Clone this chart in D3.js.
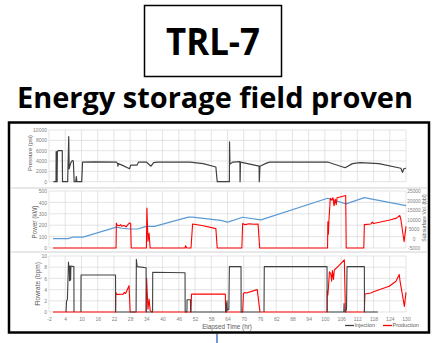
<!DOCTYPE html>
<html><head><meta charset="utf-8">
<script src="https://cdn.jsdelivr.net/npm/d3@7"></script>
<style>html,body{margin:0;padding:0;background:#fff;}svg{display:block;}</style>
</head><body>
<svg id="c" width="436" height="343"></svg>
<script>
// ---- data (hours, value) ----
const xTicks = [-2,4,10,16,22,28,34,40,46,52,58,64,70,76,82,88,94,100,106,112,118,124,130];
const pressureTicks = [0,2000,4000,6000,8000,10000];
const powerTicks = [0,100,200,300,400,500];
const volumeTicks = [-5000,0,5000,10000,15000,20000,25000];
const flowTicks = [0,2,4,6,8,10];

const pressure = [[-0.4,0],[0.6,0],[0.65,5800],[0.8,0],[0.9,5700],[1.0,0],[1.1,5900],[1.4,6000],[2.9,6000],[3.0,0],
 [4.9,0],[5.3,8700],[5.45,2500],[6.0,3600],[6.6,4100],[7.0,4000],[7.3,0],[7.9,0],[8.1,1000],[8.3,0],[10.1,0],[10.4,3800],
 [15,3850],[22.9,3800],[23.4,3500],[23.5,3000],[23.6,3500],[25,3200],[27.8,2500],[28.2,3200],[30.5,3200],[31.1,3800],
 [34,3800],[35.7,3000],[36.7,3700],[38,3800],[50.2,3800],[55,3500],[59.7,2850],[60.2,0],[64.7,0],[64.75,7700],[64.9,3400],
 [66,3800],[68.6,3900],[68.65,0],[68.8,3800],[75.7,3000],[75.75,0],[76.0,3000],[78.4,3600],[79.6,3800],[101,3800],
 [107.5,2700],[110.2,3500],[113,3700],[120,3500],[128.1,2600],[128.7,1800],[129.2,2500],[130,2600]];

const power = [[-0.5,0],[22.8,0],[22.9,218],[23.3,200],[24,195],[24.5,205],[25,190],[25.5,198],[26,195],[26.5,185],[27,200],
 [27.8,220],[28.2,215],[28.4,0],[34,0],[34.2,350],[34.6,60],[35,130],[35.4,0],[48.3,0],[48.5,20],[49,0],[50.5,0],[51.1,210],
 [55,195],[59.7,170],[60.2,0],[69.3,0],[69.6,215],[70.5,205],[72,212],[74,208],[75.3,210],[75.9,0],[101,0],[101.1,230],
 [101.3,120],[101.5,240],[102,435],[102.5,420],[103,440],[103.4,370],[103.8,430],[104.2,380],[104.5,440],[106,450],
 [107.7,460],[107.9,0],[114.4,0],[114.6,205],[117,210],[117.5,227],[118,215],[121,230],[124,245],[126.5,262],[127.7,285],
 [128.1,250],[129.3,55],[130,190]];

const volume = [[-0.5,-100],[5.1,-100],[6.9,760],[10.6,760],[22.9,6000],[25,5400],[27.8,5000],[30.8,5000],[33.9,6400],
 [37,6400],[49.5,11260],[51,11200],[61.5,9500],[64.1,8600],[69.6,11200],[76.4,9830],[101,21160],[107.8,18200],
 [114.6,21500],[130,17300]];

const production = [[-0.5,0],[22.6,0],[22.7,3.5],[23,3.15],[25.5,3.2],[25.8,3.5],[26.3,3.3],[27.6,4.7],[28.0,0],[33.9,0],
 [34.1,6.0],[34.6,0.5],[35.0,2.3],[35.4,0.3],[36,0],[50.5,0],[50.7,3.2],[63.2,3.2],[63.3,0],[69.6,0],[69.9,3.3],[70.5,3.5],
 [71,3.4],[75,4.0],[76,0],[100.8,0],[100.9,3.8],[101.1,3.0],[101.3,4.2],[101.7,7.2],[102.2,6.8],[102.5,5.5],[102.8,7.4],
 [103.2,5.8],[103.5,7.5],[105,8.2],[107.2,9.3],[107.6,0],[114.6,0],[114.8,3.2],[117,3.4],[118,3.6],[119.5,3.9],[123.8,4.6],
 [126.3,5.5],[127.5,6.7],[127.8,5.5],[129.4,1.0],[130,3.5]];

const injection = [[4.3,0],[4.5,2.0],[4.8,2.2],[5.2,8.9],[5.35,7.6],[5.5,8.2],[5.6,5.6],[5.7,8.2],[5.8,5.9],[5.9,8.1],
 [6.0,5.7],[6.1,8.2],[7.2,8.1],[7.25,0],[7.3,null],[9.8,0],[9.85,6.6],[22.6,6.6],[22.65,0],[30.2,0],[30.3,9.4],[30.6,8.1],
 [33.9,7.9],[33.95,0],[36.3,0],[36.35,7.1],[48.3,7.0],[48.35,0],[49.0,0],[49.05,2.2],[50.3,2.2],[50.35,0],[63.4,0],
 [63.5,1.5],[63.6,0],[63.8,2.0],[63.9,0.3],[64.5,0.5],[64.7,8.1],[69.0,8.1],[69.05,0],[76,0],[76.05,null],[77.5,0],
 [77.6,8.1],[100.8,8.1],[100.85,0],[107.0,0],[107.1,1.5],[107.2,0],[107.6,0],[108.0,0.5],[108.2,8.1],[114.6,8.1],
 [114.65,0],[119.6,0]];

const legendItems = ["Injection","Production"];

// ---- drawing ----
const svg = d3.select("#c");
const font = "'Liberation Sans', Arial, sans-serif";
const gridC = "#d9d9d9", tickC = "#7f7f7f", titleC = "#595959";
const cInj = "#404040", cProd = "#ff0000", cVol = "#5b9bd5", cPres = "#404040";

// title
svg.append("rect").attr("x",144.5).attr("y",5.5).attr("width",137).attr("height",71)
  .attr("fill","none").attr("stroke","#000").attr("stroke-width",1.5);
svg.append("text").attr("x",213).attr("y",55).attr("text-anchor","middle")
  .attr("font-family","'Open Sans', sans-serif").attr("font-weight",700).attr("font-size",37)
  .attr("textLength",94).attr("lengthAdjust","spacingAndGlyphs").text("TRL-7");
svg.append("text").attr("x",17).attr("y",108)
  .attr("font-family","'Open Sans', sans-serif").attr("font-weight",700).attr("font-size",28)
  .attr("textLength",396).attr("lengthAdjust","spacingAndGlyphs").text("Energy storage field proven");

// frame
svg.append("rect").attr("x",9).attr("y",122.5).attr("width",420).attr("height",210)
  .attr("fill","#fff").attr("stroke","#000").attr("stroke-width",2.5);
// connector
svg.append("line").attr("x1",217).attr("x2",217).attr("y1",334).attr("y2",343)
  .attr("stroke","#4472c4").attr("stroke-width",1.5);
// panel separators
[188,252].forEach(y=>svg.append("line").attr("x1",10.5).attr("x2",427.5).attr("y1",y).attr("y2",y)
  .attr("stroke","#d0d0d0").attr("stroke-width",1));

const x = d3.scaleLinear().domain([-2,130]).range([49,406]);
const yP = d3.scaleLinear().domain([0,10000]).range([181.7,130]);
const yW = d3.scaleLinear().domain([0,500]).range([248,191]);
const yV = d3.scaleLinear().domain([-5000,25000]).range([248,191]);
const yF = d3.scaleLinear().domain([0,10]).range([312,256]);

function grid(y, ticks){
  const g = svg.append("g");
  const [y0,y1] = [y(ticks[0]), y(ticks[ticks.length-1])];
  g.selectAll("line.v").data(xTicks).join("line")
    .attr("x1",d=>x(d)).attr("x2",d=>x(d)).attr("y1",y0).attr("y2",y1)
    .attr("stroke",gridC).attr("stroke-width",0.7);
  g.selectAll("line.h").data(ticks).join("line").attr("class","h")
    .attr("x1",x(-2)).attr("x2",x(130)).attr("y1",d=>y(d)).attr("y2",d=>y(d))
    .attr("stroke",gridC).attr("stroke-width",0.7);
}
grid(yP, pressureTicks); grid(yW, powerTicks); grid(yF, flowTicks);

function leftAxis(y, ticks, fmt){
  const ax = d3.axisLeft(y).tickValues(ticks).tickSize(0).tickPadding(2).tickFormat(fmt||(d=>d));
  const g = svg.append("g").attr("transform",`translate(${x(-2)},0)`).call(ax);
  g.select(".domain").remove();
  g.selectAll("text").attr("fill",tickC).attr("font-size",5).attr("font-family",font);
}
leftAxis(yP, pressureTicks); leftAxis(yW, powerTicks); leftAxis(yF, flowTicks);

const axR = d3.axisRight(yV).tickValues(volumeTicks).tickSize(0).tickPadding(8).tickFormat(d=>d);
const gR = svg.append("g").attr("transform",`translate(${x(130)},0)`).call(axR);
gR.select(".domain").remove();
gR.selectAll("text").attr("fill",tickC).attr("font-size",4.8).attr("font-family",font).attr("text-anchor","middle");

const axB = d3.axisBottom(x).tickValues(xTicks).tickSize(0).tickPadding(5).tickFormat(d=>d);
const gB = svg.append("g").attr("transform",`translate(0,${yF(0)})`).call(axB);
gB.select(".domain").remove();
gB.selectAll("text").attr("fill",tickC).attr("font-size",5).attr("font-family",font);

function vtitle(tx, ty, txt, size, rot){
  svg.append("text").attr("transform",`translate(${tx},${ty}) rotate(${rot||-90})`)
    .attr("text-anchor","middle").attr("dominant-baseline","middle")
    .attr("fill",titleC).attr("font-size",size).attr("font-family",font).text(txt);
}
vtitle(30.5, 153, "Pressure (psi)", 5.8);
vtitle(35, 222, "Power (kW)", 6.3);
vtitle(38.5, 284, "Flowrate (bpm)", 6.5);
vtitle(424.8, 218, "Subsurface Vol. (bbl)", 5.1);
svg.append("text").attr("x",227).attr("y",329).attr("text-anchor","middle")
  .attr("fill",titleC).attr("font-size",6.3).attr("font-family",font).text("Elapsed Time (hr)");

function path(data, y, color, w){
  const ln = d3.line().defined(d=>d[1]!=null).x(d=>x(d[0])).y(d=>y(d[1]));
  svg.append("path").datum(data).attr("d",ln).attr("fill","none")
    .attr("stroke",color).attr("stroke-width",w||1.2).attr("stroke-linejoin","round");
}
path(pressure, yP, cPres, 1.2);
path(volume, yV, cVol, 1.2);
path(power, yW, cProd, 1.1);
path(production, yF, cProd, 1.1);
path(injection, yF, cInj, 1.1);

// legend
const lg = svg.append("g");
const lx = [345, 383];
legendItems.forEach((t,i)=>{
  lg.append("line").attr("x1",lx[i]).attr("x2",lx[i]+9).attr("y1",325.5).attr("y2",325.5)
    .attr("stroke", i===0 ? cInj : cProd).attr("stroke-width",1.3);
  lg.append("text").attr("x",lx[i]+9.5).attr("y",327.3).attr("fill",titleC)
    .attr("font-size",5.5).attr("font-family",font).text(t);
});
</script>
</body></html>
